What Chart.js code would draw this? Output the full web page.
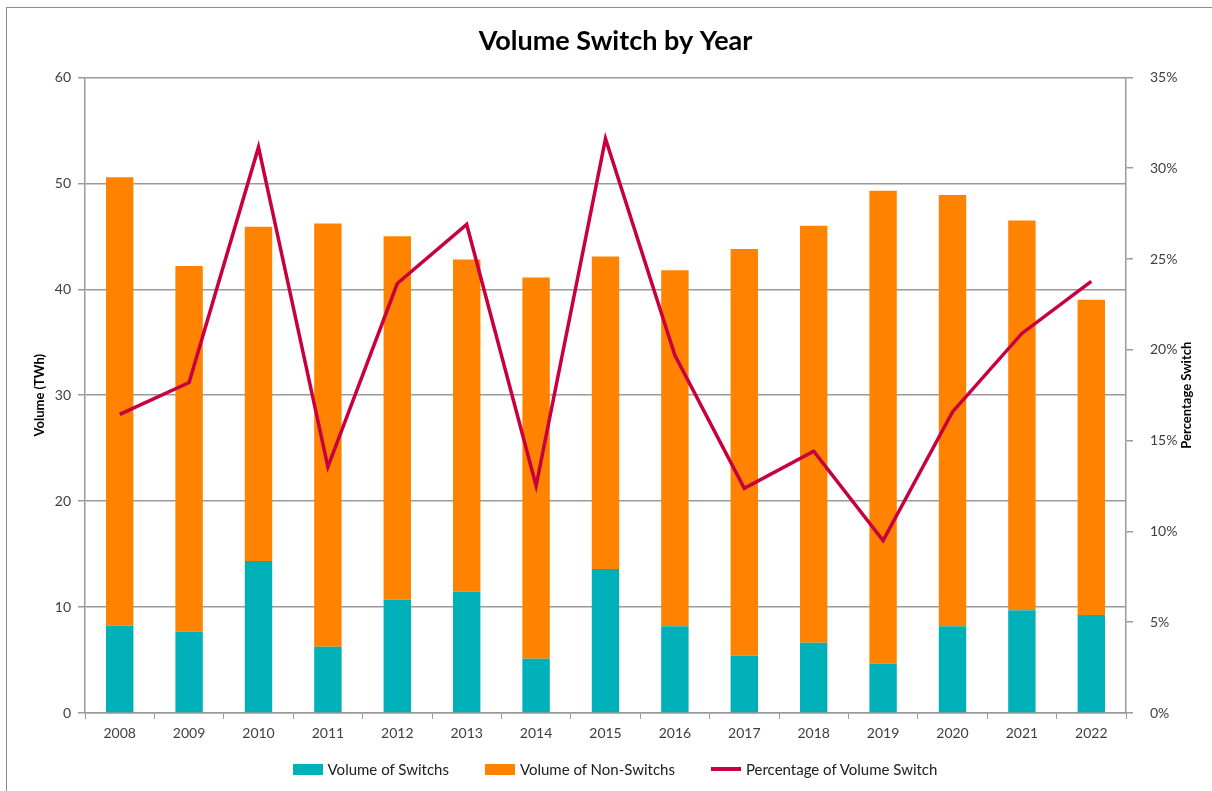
<!DOCTYPE html>
<html>
<head>
<meta charset="utf-8">
<script src="https://cdn.jsdelivr.net/npm/chart.js@4/dist/chart.umd.min.js"></script>
<style>
  html, body { margin: 0; padding: 0; background: #fff; overflow: hidden; }
  #frame { position: absolute; left: 6px; top: 7px; width: 1300px; height: 900px; border: 1px solid #8c8c8c; }
  #wrap { position: absolute; left: 0; top: 0; width: 1212px; height: 791px; }
  #legend { position: absolute; left: 0; top: 760px; width: 1230px; display: flex; justify-content: center; gap: 36px;
            font-family: Lato, "Open Sans", sans-serif; font-size: 15px; color: #202020; }
  #legend .item { display: flex; align-items: center; }
  #legend .box { width: 30px; height: 11px; margin-right: 5px; }
  #legend .ln { width: 30px; height: 3.5px; margin-right: 5px; }
</style>
</head>
<body>
<div id="frame"></div>
<div id="wrap"><canvas id="chart"></canvas></div>
<div id="legend"></div>
<script>
// valores
const years = ['2008', '2009', '2010', '2011', '2012', '2013', '2014', '2015', '2016', '2017', '2018', '2019', '2020', '2021', '2022'];
const switchVol = [8.25, 7.66, 14.36, 6.25, 10.68, 11.46, 5.11, 13.6, 8.2, 5.4, 6.62, 4.64, 8.2, 9.7, 9.26];
const nonSwitchVol = [42.32, 34.54, 31.54, 39.95, 34.32, 31.34, 35.99, 29.5, 33.6, 38.4, 39.38, 44.66, 40.7, 36.8, 29.74];
const pctSwitch = [0.1644, 0.182, 0.3116, 0.1356, 0.2365, 0.269, 0.1251, 0.3162, 0.197, 0.1237, 0.1442, 0.0949, 0.1658, 0.209, 0.2377];

const fontFam = 'Lato, "Open Sans", sans-serif';
const tickColor = '#404040';
const gridColor = '#9a9a9a';

// título do eixo da direita, lido de baixo para cima como no original
const rightTitle = {
    id: 'rightTitle',
    afterDraw(chart) {
        const { ctx, chartArea } = chart;
        ctx.save();
        ctx.translate(1187, (chartArea.top + chartArea.bottom) / 2);
        ctx.rotate(-Math.PI / 2);
        ctx.font = 'bold 13px ' + fontFam;
        ctx.fillStyle = '#000';
        ctx.textAlign = 'center';
        ctx.textBaseline = 'middle';
        ctx.fillText('Percentage Switch', 0, 0);
        ctx.restore();
    }
};

const ctx = document.getElementById('chart').getContext('2d');

const chart = new Chart(ctx, {
    type: 'bar',
    data: {
        labels: years,
        datasets: [{
            label: 'Volume of Switchs',
            data: switchVol,
            backgroundColor: '#00B0B9',
            borderWidth: 0,
            yAxisID: 'y',
            order: 1,
            barPercentage: 0.395,
            categoryPercentage: 1
        }, {
            label: 'Volume of Non-Switchs',
            data: nonSwitchVol,
            backgroundColor: '#FF8300',
            borderWidth: 0,
            yAxisID: 'y',
            order: 1,
            barPercentage: 0.395,
            categoryPercentage: 1
        }, {
            type: 'line',
            label: 'Percentage of Volume Switch',
            data: pctSwitch,
            borderColor: '#C8003F',
            backgroundColor: '#C8003F',
            borderWidth: 3.5,
            pointRadius: 0,
            tension: 0,
            order: 0, // linha por cima das barras
            yAxisID: 'y1'
        }]
    },
    options: {
        responsive: true,
        maintainAspectRatio: false,
        animation: false,
        layout: {
            padding: { left: 32, right: 13, top: 0, bottom: 38 }
        },
        scales: {
            x: {
                stacked: true,
                grid: { display: true, drawOnChartArea: false, color: gridColor, tickLength: 6, offset: true },
                border: { color: gridColor, width: 1.5 },
                ticks: { color: tickColor, font: { family: fontFam, size: 14 }, padding: 6 },
                afterFit: (s) => { s.height = 40; }
            },
            y: {
                stacked: true,
                position: 'left',
                min: 0,
                max: 60,
                ticks: { stepSize: 10, color: tickColor, font: { family: fontFam, size: 14 }, padding: 7 },
                grid: { color: gridColor, lineWidth: 1.5, tickLength: 7 },
                border: { color: gridColor, width: 1.5 },
                title: {
                    display: true,
                    text: 'Volume (TWh)',
                    color: '#000',
                    font: { family: fontFam, size: 13, weight: 'bold' },
                    padding: { top: 0, bottom: 0 }
                },
                afterFit: (s) => { s.width = 53; }
            },
            y1: {
                position: 'right',
                min: 0,
                max: 0.35,
                ticks: {
                    stepSize: 0.05,
                    color: tickColor,
                    font: { family: fontFam, size: 14 },
                    padding: 17,
                    callback: (v) => Math.round(v * 100) + '%'
                },
                grid: { drawOnChartArea: false, color: gridColor, lineWidth: 1.5, tickLength: 7 },
                border: { color: gridColor, width: 1.5 },
                afterFit: (s) => { s.width = 73; }
            }
        },
        plugins: {
            title: {
                display: true,
                text: 'Volume Switch by Year',
                color: '#000',
                font: { family: fontFam, size: 27, weight: 'bold' },
                padding: { top: 25, bottom: 20 }
            },
            legend: { display: false },
            tooltip: { enabled: false }
        }
    },
    plugins: [rightTitle]
});

// legenda em HTML, na ordem original das séries
const legendEl = document.getElementById('legend');
chart.data.datasets.forEach((ds) => {
    const item = document.createElement('div');
    item.className = 'item';
    const mark = document.createElement('span');
    mark.className = ds.type === 'line' ? 'ln' : 'box';
    mark.style.background = ds.type === 'line' ? ds.borderColor : ds.backgroundColor;
    const txt = document.createElement('span');
    txt.textContent = ds.label;
    item.appendChild(mark);
    item.appendChild(txt);
    legendEl.appendChild(item);
});
</script>
</body>
</html>
